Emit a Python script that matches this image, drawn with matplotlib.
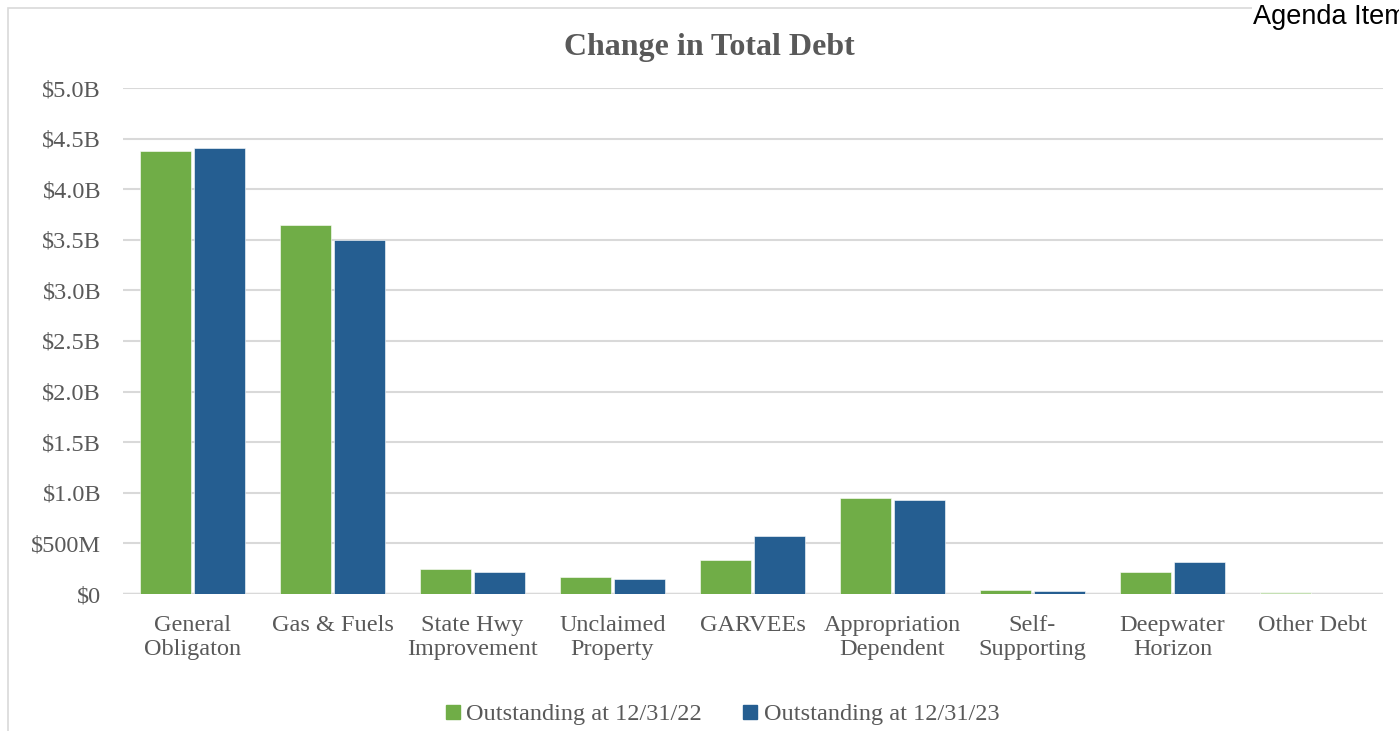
import matplotlib.pyplot as plt
import numpy as np
from matplotlib.patches import Rectangle
from matplotlib.lines import Line2D

categories = ["General\nObligaton", "Gas & Fuels", "State Hwy\nImprovement", "Unclaimed\nProperty",
              "GARVEEs", "Appropriation\nDependent", "Self-\nSupporting", "Deepwater\nHorizon", "Other Debt"]
debt_2022 = [4.378, 3.646, 0.247, 0.165, 0.336, 0.948, 0.036, 0.217, 0.020]
debt_2023 = [4.407, 3.498, 0.222, 0.151, 0.573, 0.929, 0.030, 0.316, 0.0]
yticks = [0, 0.5, 1.0, 1.5, 2.0, 2.5, 3.0, 3.5, 4.0, 4.5, 5.0]
ytick_labels = ["$0", "$500M", "$1.0B", "$1.5B", "$2.0B", "$2.5B", "$3.0B", "$3.5B", "$4.0B", "$4.5B", "$5.0B"]

green = "#70ad47"
blue = "#255e91"
text_gray = "#595959"

plt.rcParams["font.family"] = ["Liberation Serif", "DejaVu Serif"]

fig = plt.figure(figsize=(13.99, 7.31), dpi=100)
ax = fig.add_axes([122.5 / 1399, 1 - 594 / 731, 1260 / 1399, 506 / 731])

x = np.arange(len(categories))
w = 0.366
green_colors = [green] * (len(categories) - 1) + ["#c5e0b4"]
ax.bar(x - w / 2 - 0.01, debt_2022, width=w, color=green_colors, edgecolor="white", linewidth=0.4, zorder=3)
ax.bar(x + w / 2 + 0.01, debt_2023, width=w, color=blue, edgecolor="white", linewidth=0.4, zorder=3)

ax.set_xlim(-0.5, len(categories) - 0.5)
ax.set_ylim(0, 5.0)
ax.set_yticks(yticks)
ax.set_yticklabels(ytick_labels)
ax.set_xticks(x)
ax.set_xticklabels(categories, linespacing=1.2)
ax.tick_params(axis="both", length=0, labelsize=17.5, colors=text_gray)
ax.tick_params(axis="y", pad=15.5)
ax.tick_params(axis="x", pad=15)
ax.grid(axis="y", color="#d9d9d9", linewidth=1.5, zorder=0)
for s in ax.spines.values():
    s.set_visible(False)
ax.axhline(0, color="#d9d9d9", linewidth=2.5, zorder=2)

fig.text(709 / 1399, 1 - 47 / 731, "Change in Total Debt", ha="center", va="center",
         fontsize=23, fontweight="bold", color=text_gray)

handles = [Line2D([], [], marker="s", linestyle="none", color=green, markersize=10),
           Line2D([], [], marker="s", linestyle="none", color=blue, markersize=10)]
fig.legend(handles, ["Outstanding at 12/31/22", "Outstanding at 12/31/23"], loc="center",
           bbox_to_anchor=(720 / 1399, 1 - 714 / 731), ncol=2, frameon=False, fontsize=17.5,
           labelcolor=text_gray, handletextpad=0.05, columnspacing=1.5, handlelength=1.0)

# outer border of the chart
fig.patches.append(Rectangle((8 / 1399, -0.1), 1.2, 1 - 8 / 731 + 0.1, transform=fig.transFigure,
                             fill=False, edgecolor="#d9d9d9", linewidth=1.2, zorder=0))
# page header, clipped by the right edge as in the source page
fig.text(1253 / 1399, 1 - 17 / 731, "Agenda Item", ha="left", va="center", fontsize=19.5,
         family="Liberation Sans", color="black",
         bbox=dict(facecolor="white", edgecolor="none", pad=1))

fig.savefig("out.png", dpi=100)
